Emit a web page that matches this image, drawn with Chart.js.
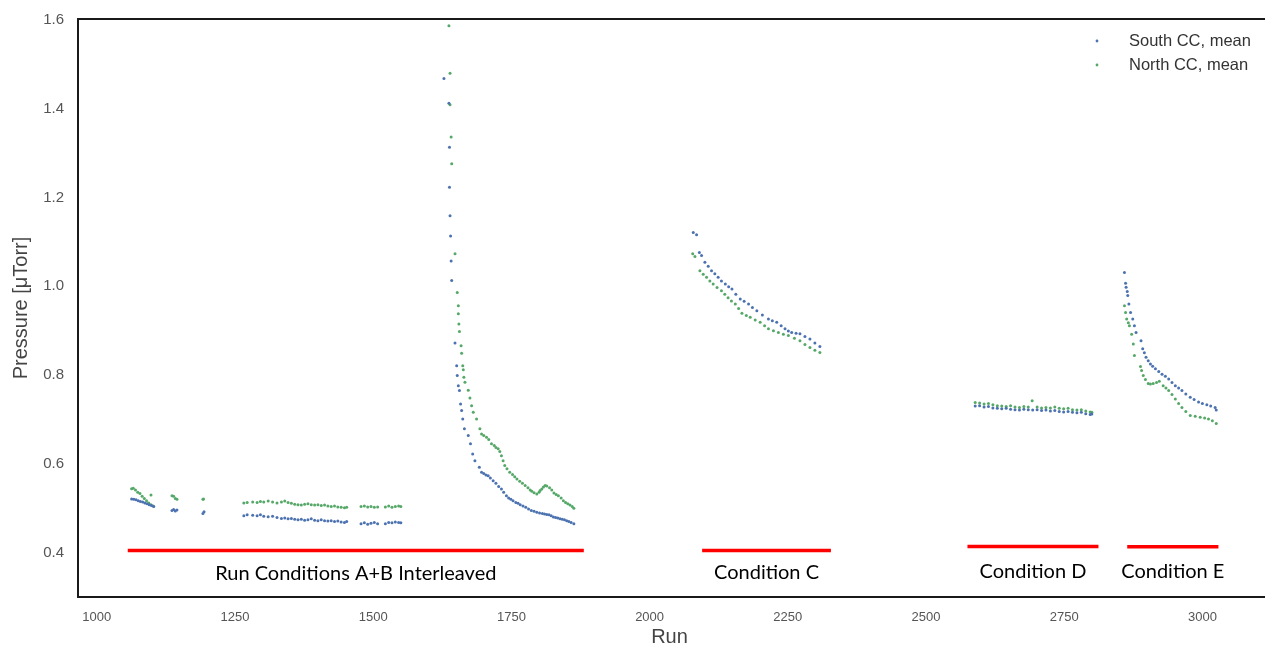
<!DOCTYPE html>
<html lang="en">
<head>
  <meta charset="UTF-8" />
  <title>Pressure vs Run</title>
  <script src="https://cdn.jsdelivr.net/npm/chart.js"></script>
  <style>
    body { margin: 0; background: #fff; }
    #wrap { width: 1265px; height: 649px; }
  </style>
</head>
<body>
<div id="wrap"><canvas id="chart" width="1265" height="649"></canvas></div>
<script>
  // South CC, mean (blue)
  const southRuns = [
    1063, 1067, 1071, 1075, 1079, 1083, 1087, 1091, 1095, 1099, 1103,
    1136, 1139, 1142, 1145, 1192, 1194,
    1266, 1272, 1282, 1290, 1296, 1302, 1310, 1318, 1326, 1334, 1340, 1346, 1352, 1358, 1364,
    1370, 1376, 1382, 1388, 1394, 1400, 1406, 1412, 1418, 1424, 1430, 1436, 1442, 1448, 1452,
    1478, 1484, 1490, 1496, 1502, 1508, 1522, 1528, 1534, 1540, 1546, 1550,
    1628, 1637, 1638, 1638, 1639, 1640, 1641, 1642,
    1648, 1651, 1652, 1654, 1656, 1658, 1660, 1662, 1665, 1672, 1676, 1680, 1684, 1692, 1696,
    1700, 1704, 1708, 1712, 1717, 1722, 1727, 1732, 1736, 1741, 1745, 1749, 1753, 1758, 1762,
    1766, 1771, 1776, 1781, 1786, 1791, 1796, 1801, 1806, 1810, 1814, 1818, 1822, 1826, 1830,
    1834, 1838, 1842, 1846, 1850, 1854, 1858, 1863,
    2079, 2085, 2090, 2094, 2100, 2106, 2112, 2118, 2124, 2130, 2137, 2143, 2149, 2156, 2164,
    2171, 2179, 2186, 2194, 2204, 2215, 2222, 2230, 2238, 2245, 2251, 2257, 2265, 2272, 2281,
    2290, 2299, 2308,
    2589, 2597, 2605, 2613, 2621, 2629, 2637, 2645, 2653, 2661, 2669, 2677, 2685, 2693, 2701,
    2709, 2717, 2725, 2733, 2741, 2749, 2757, 2765, 2773, 2781, 2789, 2797, 2800,
    2859, 2861, 2862, 2864, 2865, 2867, 2870, 2874, 2877, 2880, 2889, 2892, 2895, 2898, 2902,
    2906, 2910, 2915, 2921, 2927, 2933, 2939, 2945, 2951, 2957, 2963, 2970, 2978, 2985, 2993,
    3000, 3008, 3015, 3023, 3025
  ];
  const southPressure = [
    0.521, 0.520, 0.519, 0.517, 0.515, 0.514, 0.512, 0.510, 0.508, 0.506, 0.504,
    0.495, 0.497, 0.494, 0.496, 0.488, 0.492,
    0.483, 0.485, 0.484, 0.483, 0.485, 0.482, 0.481, 0.482, 0.479, 0.477, 0.478, 0.476, 0.477, 0.475, 0.474,
    0.475, 0.473, 0.474, 0.476, 0.473, 0.472, 0.474, 0.472, 0.471, 0.472, 0.470, 0.471, 0.469, 0.468, 0.470,
    0.465, 0.467, 0.464, 0.466, 0.468, 0.465, 0.465, 0.468, 0.467, 0.469, 0.468, 0.467,
    1.468, 1.412, 1.313, 1.223, 1.159, 1.113, 1.057, 1.013,
    0.872, 0.821, 0.799, 0.776, 0.765, 0.735, 0.720, 0.701, 0.679, 0.664, 0.645, 0.622, 0.607, 0.592, 0.581,
    0.578, 0.575, 0.573, 0.568, 0.562, 0.556, 0.549, 0.543, 0.536, 0.528, 0.523, 0.520, 0.517, 0.513, 0.511,
    0.508, 0.505, 0.502, 0.498, 0.495, 0.493, 0.491, 0.489, 0.488, 0.487, 0.486, 0.485, 0.483, 0.480, 0.479,
    0.478, 0.476, 0.475, 0.474, 0.472, 0.470, 0.468, 0.465,
    1.121, 1.116, 1.076, 1.069, 1.054, 1.045, 1.035, 1.028, 1.020, 1.012, 1.005, 0.999, 0.994, 0.982, 0.971,
    0.966, 0.960, 0.952, 0.945, 0.935, 0.926, 0.922, 0.919, 0.911, 0.904, 0.899, 0.896, 0.894, 0.893, 0.887,
    0.881, 0.872, 0.864,
    0.730, 0.731, 0.728, 0.729, 0.726, 0.725, 0.724, 0.725, 0.723, 0.722, 0.721, 0.723, 0.722, 0.721, 0.722,
    0.720, 0.721, 0.719, 0.720, 0.718, 0.717, 0.718, 0.716, 0.715, 0.716, 0.713, 0.711, 0.712,
    1.031, 1.007, 0.998, 0.988, 0.979, 0.960, 0.941, 0.926, 0.911, 0.896, 0.877, 0.859, 0.850, 0.840, 0.832,
    0.825, 0.820, 0.814, 0.808, 0.802, 0.797, 0.791, 0.783, 0.776, 0.771, 0.765, 0.757, 0.750, 0.745, 0.739,
    0.736, 0.733, 0.730, 0.727, 0.721
  ];

  // North CC, mean (green)
  const northRuns = [
    1063, 1066, 1070, 1074, 1078, 1082, 1086, 1090, 1094, 1098, 1098, 1102,
    1136, 1139, 1142, 1145, 1192, 1193,
    1266, 1272, 1282, 1290, 1296, 1302, 1310, 1318, 1326, 1334, 1340, 1346, 1352, 1358, 1364,
    1370, 1376, 1382, 1388, 1394, 1400, 1406, 1412, 1418, 1424, 1430, 1436, 1442, 1448, 1452,
    1478, 1484, 1490, 1496, 1502, 1508, 1522, 1528, 1534, 1540, 1546, 1550,
    1637, 1639, 1639, 1641, 1642, 1648, 1652,
    1654, 1654, 1655, 1656, 1659, 1660, 1662, 1663, 1664, 1666, 1672, 1675, 1678, 1681, 1687,
    1693, 1696, 1700, 1705, 1709, 1714, 1719, 1722, 1726, 1729, 1732, 1735, 1738, 1742, 1747,
    1752, 1756, 1760, 1765, 1770, 1775, 1780, 1784, 1787, 1791, 1796, 1800, 1802, 1805, 1808,
    1811, 1814, 1819, 1823, 1827, 1831, 1835, 1840, 1844, 1848, 1852, 1856, 1860, 1863,
    2078, 2082, 2091, 2097, 2103, 2109, 2115, 2122, 2130, 2136, 2142, 2148, 2155, 2161, 2167,
    2175, 2182, 2191, 2200, 2208, 2215, 2224, 2233, 2242, 2251, 2262, 2272, 2281, 2290, 2299,
    2308,
    2589, 2597, 2605, 2613, 2621, 2629, 2637, 2645, 2653, 2661, 2669, 2677, 2685, 2692, 2701,
    2709, 2717, 2725, 2733, 2741, 2749, 2757, 2765, 2773, 2781, 2789, 2797, 2800,
    2859, 2861, 2863, 2866, 2868, 2872, 2875, 2877, 2888, 2890, 2893, 2897, 2902, 2906, 2911,
    2917, 2922, 2929, 2934, 2939, 2945, 2951, 2957, 2963, 2970, 2978, 2987, 2996, 3004, 3011,
    3018, 3025
  ];
  const northPressure = [
    0.544, 0.545, 0.541, 0.536, 0.533, 0.527, 0.522, 0.517, 0.512, 0.508, 0.530, 0.505,
    0.528, 0.527, 0.522, 0.520, 0.520, 0.521,
    0.512, 0.513, 0.514, 0.513, 0.515, 0.514, 0.516, 0.514, 0.512, 0.514, 0.516, 0.513, 0.511, 0.509, 0.508,
    0.507, 0.509, 0.510, 0.508, 0.507, 0.508, 0.506, 0.507, 0.505, 0.504, 0.505, 0.503, 0.502, 0.501, 0.502,
    0.504, 0.505, 0.503, 0.504, 0.502, 0.503, 0.503, 0.505, 0.502, 0.504, 0.505, 0.504,
    1.587, 1.480, 1.409, 1.336, 1.276, 1.073, 0.986,
    0.956, 0.938, 0.915, 0.898, 0.866, 0.849, 0.821, 0.812, 0.795, 0.784, 0.766, 0.748, 0.731, 0.716, 0.701,
    0.679, 0.667, 0.664, 0.660, 0.655, 0.645, 0.641, 0.637, 0.634, 0.628, 0.618, 0.607, 0.596, 0.589, 0.581,
    0.576, 0.571, 0.566, 0.561, 0.556, 0.551, 0.546, 0.541, 0.538, 0.535, 0.532, 0.536, 0.540, 0.543, 0.548,
    0.551, 0.550, 0.546, 0.541, 0.534, 0.531, 0.528, 0.523, 0.517, 0.513, 0.510, 0.507, 0.504, 0.500,
    1.073, 1.067, 1.035, 1.027, 1.020, 1.012, 1.005, 0.997, 0.990, 0.982, 0.974, 0.967, 0.960, 0.950, 0.939,
    0.934, 0.930, 0.924, 0.919, 0.911, 0.904, 0.900, 0.896, 0.892, 0.889, 0.883, 0.877, 0.869, 0.862, 0.856,
    0.851,
    0.738, 0.737, 0.735, 0.736, 0.733, 0.731, 0.730, 0.729, 0.731, 0.728, 0.727, 0.729, 0.728, 0.742, 0.728,
    0.726, 0.727, 0.726, 0.728, 0.725, 0.724, 0.725, 0.722, 0.721, 0.722, 0.719, 0.717, 0.716,
    0.956, 0.941, 0.926, 0.918, 0.911, 0.892, 0.870, 0.844, 0.819, 0.810, 0.799, 0.790, 0.781, 0.780, 0.781,
    0.783, 0.786, 0.776, 0.771, 0.765, 0.756, 0.746, 0.736, 0.727, 0.718, 0.709, 0.707, 0.705, 0.703, 0.701,
    0.697, 0.691
  ];

  const xTicks = [1000, 1250, 1500, 1750, 2000, 2250, 2500, 2750, 3000];
  const yTicks = [0.4, 0.6, 0.8, 1.0, 1.2, 1.4, 1.6];

  // red bars + captions under each run block (run range, pressure level)
  const noteLabels = ["Run Conditions A+B Interleaved", "Condition C", "Condition D", "Condition E"];
  const noteStart = [1056, 2095, 2575, 2864];
  const noteEnd = [1881, 2328, 2812, 3029];
  const noteLevel = [0.405, 0.405, 0.4135, 0.413];
  const noteTextLevel = [0.353, 0.355, 0.357, 0.357];

  const BLUE = "#4c72b0";
  const GREEN = "#55a868";

  const pts = (xs, ys) => xs.map((x, i) => ({ x, y: ys[i] }));

  const framePlugin = {
    id: "frame",
    afterDatasetsDraw(chart) {
      const { ctx, chartArea: a, scales } = chart;
      ctx.save();
      // annotations
      for (let i = 0; i < noteLabels.length; i++) {
        const x0 = scales.x.getPixelForValue(noteStart[i]);
        const x1 = scales.x.getPixelForValue(noteEnd[i]);
        const yl = scales.y.getPixelForValue(noteLevel[i]);
        ctx.strokeStyle = "#ff0000";
        ctx.lineWidth = 3.5;
        ctx.beginPath();
        ctx.moveTo(x0, yl);
        ctx.lineTo(x1, yl);
        ctx.stroke();
        ctx.fillStyle = "#000";
        ctx.font = "20px Lato, 'Open Sans', sans-serif";
        ctx.textAlign = "center";
        ctx.textBaseline = "middle";
        ctx.fillText(noteLabels[i], (x0 + x1) / 2, scales.y.getPixelForValue(noteTextLevel[i]));
      }
      // legend
      const ds = chart.data.datasets;
      ctx.font = "16.5px 'Liberation Sans', Arial, sans-serif";
      ctx.textAlign = "left";
      ctx.textBaseline = "middle";
      ds.forEach((d, i) => {
        const y = 41 + i * 24;
        ctx.fillStyle = d.backgroundColor;
        ctx.beginPath();
        ctx.arc(1097, y, 1.4, 0, Math.PI * 2);
        ctx.fill();
        ctx.fillStyle = "#333";
        ctx.fillText(d.label, 1129, y);
      });
      // frame: top, left, bottom
      ctx.strokeStyle = "#1a1a1a";
      ctx.lineWidth = 2;
      ctx.beginPath();
      ctx.moveTo(chart.width, a.top);
      ctx.lineTo(a.left, a.top);
      ctx.lineTo(a.left, a.bottom);
      ctx.lineTo(chart.width, a.bottom);
      ctx.stroke();
      ctx.restore();
    }
  };

  new Chart(document.getElementById("chart"), {
    type: "scatter",
    data: {
      datasets: [
        { label: "South CC, mean", data: pts(southRuns, southPressure), backgroundColor: BLUE, borderWidth: 0, pointRadius: 1.5 },
        { label: "North CC, mean", data: pts(northRuns, northPressure), backgroundColor: GREEN, borderWidth: 0, pointRadius: 1.5 }
      ]
    },
    options: {
      responsive: false,
      animation: false,
      layout: { padding: { top: 19, right: 0, left: 0, bottom: 0 } },
      plugins: {
        legend: { display: false },
        tooltip: { enabled: false }
      },
      scales: {
        x: {
          type: "linear",
          min: 966,
          max: 3106,
          afterBuildTicks: s => { s.ticks = xTicks.map(v => ({ value: v })); },
          afterFit: s => { s.height = 52; },
          grid: { display: false },
          border: { display: false },
          ticks: {
            maxRotation: 0,
            padding: 5,
            color: "#555",
            font: { family: "'Liberation Sans', Arial, sans-serif", size: 13 },
            callback: v => String(v)
          },
          title: {
            display: true,
            text: "Run",
            color: "#444",
            padding: { top: 2, bottom: 0 },
            font: { family: "'Liberation Sans', Arial, sans-serif", size: 20 }
          }
        },
        y: {
          min: 0.3,
          max: 1.602,
          afterBuildTicks: s => { s.ticks = yTicks.map(v => ({ value: v })); },
          afterFit: s => { s.width = 78; },
          grid: { display: false },
          border: { display: false },
          ticks: {
            padding: 6,
            color: "#555",
            font: { family: "'Liberation Sans', Arial, sans-serif", size: 15 },
            callback: v => v.toFixed(1)
          },
          title: {
            display: true,
            text: "Pressure [μTorr]",
            color: "#444",
            padding: { top: 9, bottom: 0 },
            font: { family: "'Liberation Sans', Arial, sans-serif", size: 20 }
          }
        }
      }
    },
    plugins: [framePlugin]
  });
</script>
</body>
</html>
